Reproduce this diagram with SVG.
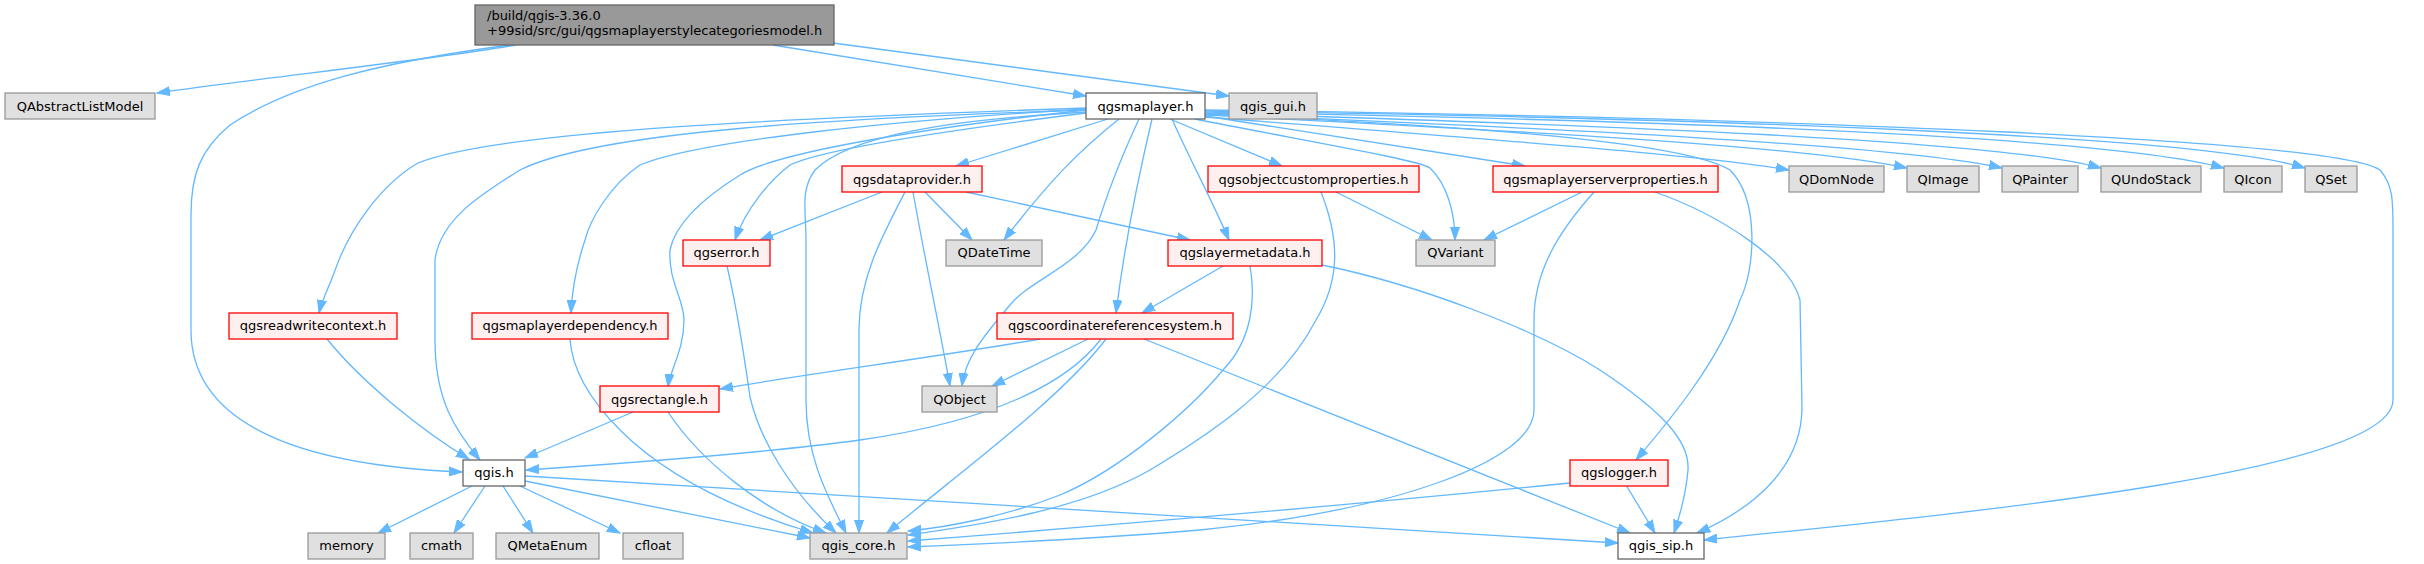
<svg xmlns="http://www.w3.org/2000/svg" width="2424" height="564" viewBox="0 0 2424 564">
<style>
text{font-family:"DejaVu Sans","Liberation Sans",sans-serif;font-size:13px;fill:#000}
.n text{text-anchor:middle}
.g rect{fill:#e0e0e0;stroke:#999999;stroke-width:1.3}
.r rect{fill:#fff0f0;stroke:#ff0000;stroke-width:1.3}
.w rect{fill:#ffffff;stroke:#666666;stroke-width:1.3}
.root rect{fill:#999999;stroke:#666666;stroke-width:1.3}
#edges path{fill:none;stroke:#63b8ff;stroke-width:1.3;marker-end:url(#a)}
</style>
<defs>
<marker id="a" markerWidth="14" markerHeight="10" refX="13" refY="5" orient="auto" markerUnits="userSpaceOnUse"><path d="M0,0.5 L13,5 L0,9.5 z" fill="#63b8ff" stroke="#63b8ff" stroke-width="1"/></marker>
</defs>
<rect width="2424" height="564" fill="#ffffff"/>
<g id="edges">
<path d="M516,45 C430,60 260,78 157,93"/>
<path d="M510,45 C380,62 290,85 230,125 C200,150 191,175 191,215 L191,330 C191,420 290,465 462,472"/>
<path d="M773,45 L1086,96"/>
<path d="M833,43 L1229,96"/>
<path d="M1108,119 L956,166"/>
<path d="M1170,119 L1282,166"/>
<path d="M1205,116 L1525,166"/>
<path d="M1205,117 C1500,140 1700,155 1789,170"/>
<path d="M1205,115 C1500,130 1800,145 1907,168"/>
<path d="M1205,114 C1550,128 1900,145 2002,168"/>
<path d="M1205,113 C1600,125 2000,140 2101,168"/>
<path d="M1205,112 C1650,120 2100,135 2224,168"/>
<path d="M1205,111 C1700,118 2200,135 2305,168"/>
<path d="M1205,110 C1800,118 2340,140 2380,170 C2393,185 2393,200 2393,230 L2393,400 C2393,470 2000,510 1704,540"/>
<path d="M1205,114 C1450,125 1680,140 1730,170 C1760,200 1755,270 1740,300 C1720,360 1670,420 1636,460"/>
<path d="M1195,119 C1300,140 1420,160 1430,168 C1448,185 1455,215 1455,240"/>
<path d="M1172,119 C1190,160 1212,200 1229,240"/>
<path d="M1152,119 C1140,170 1125,240 1116,313"/>
<path d="M1139,119 C1120,160 1105,200 1096,230 C1080,265 1030,280 1010,305 C980,340 965,360 962,386"/>
<path d="M1119,119 C1080,150 1050,180 1004,240"/>
<path d="M1086,112 C950,120 850,135 815,170 C800,190 806,210 806,240 L806,400 C806,460 830,500 846,533"/>
<path d="M1086,110 C850,118 600,130 520,170 C480,195 440,220 435,260 L435,340 C435,400 455,430 480,460"/>
<path d="M1086,108 C800,118 500,130 418,163 C380,185 350,230 337,265 C330,285 322,300 319,313"/>
<path d="M1086,109 C900,120 700,140 640,165 C610,185 590,220 585,240 C575,270 572,290 571,313"/>
<path d="M1086,110 C950,125 780,150 740,175 C700,200 675,225 670,250 C668,280 684,300 684,320 C684,350 670,370 668,387"/>
<path d="M1086,113 C950,130 820,150 790,165 C770,180 745,210 735,240"/>
<path d="M882,192 L760,240"/>
<path d="M905,192 C880,240 859,280 859,330 L859,533"/>
<path d="M913,192 C925,260 940,330 950,386"/>
<path d="M925,192 L972,240"/>
<path d="M966,192 L1190,240"/>
<path d="M1336,192 L1432,240"/>
<path d="M1321,192 C1340,240 1340,280 1316,320 C1280,390 1200,440 1150,470 C1080,510 980,525 908,535"/>
<path d="M1582,192 L1484,240"/>
<path d="M1594,192 C1560,230 1534,270 1534,320 L1534,410 C1534,460 1400,510 1200,530 C1080,540 960,545 908,547"/>
<path d="M1655,192 C1720,215 1790,260 1800,300 L1802,407 C1802,470 1750,510 1697,533"/>
<path d="M1223,266 L1142,313"/>
<path d="M1250,266 C1256,300 1252,340 1223,370 C1190,410 1120,470 1060,495 C1010,515 950,527 908,531"/>
<path d="M1322,265 C1420,285 1537,330 1600,370 C1660,410 1690,440 1688,470 C1686,495 1680,515 1674,533"/>
<path d="M1040,339 C950,355 800,375 720,389"/>
<path d="M1088,339 L992,386"/>
<path d="M1101,339 C1070,380 1000,420 860,440 C750,455 600,465 526,470"/>
<path d="M1106,339 C1060,400 950,480 887,533"/>
<path d="M1144,339 L1630,533"/>
<path d="M727,266 C735,300 742,340 750,397 C760,440 790,490 836,533"/>
<path d="M327,339 C360,380 420,430 469,459"/>
<path d="M570,339 C572,370 590,400 620,430 C660,470 720,505 813,533"/>
<path d="M633,412 L525,458"/>
<path d="M668,412 C700,460 760,510 826,533"/>
<path d="M472,486 L378,533"/>
<path d="M485,486 L454,533"/>
<path d="M503,486 L533,533"/>
<path d="M520,486 L620,533"/>
<path d="M525,481 L810,538"/>
<path d="M525,476 L1618,543"/>
<path d="M1570,483 C1300,510 1050,530 908,541"/>
<path d="M1626,485 L1655,533"/>
</g>
<g id="root" class="root"><rect x="475" y="5" width="359" height="40"/><text x="487" y="20">/build/qgis-3.36.0</text><text x="487" y="35">+99sid/src/gui/qgsmaplayerstylecategoriesmodel.h</text></g>
<g id="n_QAbstractListModel" class="n g"><rect x="5" y="93" width="150" height="26"/><text x="80" y="110.5">QAbstractListModel</text></g>
<g id="n_qgsmaplayer" class="n w"><rect x="1086" y="93" width="119" height="26"/><text x="1145.5" y="110.5">qgsmaplayer.h</text></g>
<g id="n_qgis_gui" class="n g"><rect x="1229" y="93" width="88" height="26"/><text x="1273" y="110.5">qgis_gui.h</text></g>
<g id="n_qgsdataprovider" class="n r"><rect x="842" y="166" width="140" height="26"/><text x="912" y="183.5">qgsdataprovider.h</text></g>
<g id="n_qgsobjectcustomproperties" class="n r"><rect x="1208" y="166" width="211" height="26"/><text x="1313.5" y="183.5">qgsobjectcustomproperties.h</text></g>
<g id="n_qgsmaplayerserverproperties" class="n r"><rect x="1493" y="166" width="225" height="26"/><text x="1605.5" y="183.5">qgsmaplayerserverproperties.h</text></g>
<g id="n_QDomNode" class="n g"><rect x="1789" y="166" width="95" height="26"/><text x="1836.5" y="183.5">QDomNode</text></g>
<g id="n_QImage" class="n g"><rect x="1907" y="166" width="72" height="26"/><text x="1943" y="183.5">QImage</text></g>
<g id="n_QPainter" class="n g"><rect x="2002" y="166" width="76" height="26"/><text x="2040" y="183.5">QPainter</text></g>
<g id="n_QUndoStack" class="n g"><rect x="2101" y="166" width="100" height="26"/><text x="2151" y="183.5">QUndoStack</text></g>
<g id="n_QIcon" class="n g"><rect x="2224" y="166" width="58" height="26"/><text x="2253" y="183.5">QIcon</text></g>
<g id="n_QSet" class="n g"><rect x="2305" y="166" width="52" height="26"/><text x="2331" y="183.5">QSet</text></g>
<g id="n_qgserror" class="n r"><rect x="683" y="240" width="87" height="26"/><text x="726.5" y="257">qgserror.h</text></g>
<g id="n_QDateTime" class="n g"><rect x="946" y="240" width="96" height="26"/><text x="994" y="257">QDateTime</text></g>
<g id="n_qgslayermetadata" class="n r"><rect x="1168" y="240" width="154" height="26"/><text x="1245" y="257">qgslayermetadata.h</text></g>
<g id="n_QVariant" class="n g"><rect x="1416" y="240" width="79" height="26"/><text x="1455.5" y="257">QVariant</text></g>
<g id="n_qgsreadwritecontext" class="n r"><rect x="229" y="313" width="168" height="26"/><text x="313" y="330">qgsreadwritecontext.h</text></g>
<g id="n_qgsmaplayerdependency" class="n r"><rect x="472" y="313" width="196" height="26"/><text x="570" y="330">qgsmaplayerdependency.h</text></g>
<g id="n_qgscoordinatereferencesystem" class="n r"><rect x="997" y="313" width="236" height="26"/><text x="1115" y="330">qgscoordinatereferencesystem.h</text></g>
<g id="n_qgsrectangle" class="n r"><rect x="600" y="386" width="119" height="26"/><text x="659.5" y="403.5">qgsrectangle.h</text></g>
<g id="n_QObject" class="n g"><rect x="922" y="386" width="75" height="26"/><text x="959.5" y="403.5">QObject</text></g>
<g id="n_qgis" class="n w"><rect x="463" y="460" width="62" height="26"/><text x="494" y="477">qgis.h</text></g>
<g id="n_qgslogger" class="n r"><rect x="1570" y="460" width="98" height="26"/><text x="1619" y="477">qgslogger.h</text></g>
<g id="n_memory" class="n g"><rect x="308" y="533" width="77" height="26"/><text x="346.5" y="550">memory</text></g>
<g id="n_cmath" class="n g"><rect x="410" y="533" width="63" height="26"/><text x="441.5" y="550">cmath</text></g>
<g id="n_QMetaEnum" class="n g"><rect x="496" y="533" width="103" height="26"/><text x="547.5" y="550">QMetaEnum</text></g>
<g id="n_cfloat" class="n g"><rect x="623" y="533" width="60" height="26"/><text x="653" y="550">cfloat</text></g>
<g id="n_qgis_core" class="n g"><rect x="810" y="533" width="97" height="26"/><text x="858.5" y="550">qgis_core.h</text></g>
<g id="n_qgis_sip" class="n w"><rect x="1618" y="533" width="86" height="26"/><text x="1661" y="550">qgis_sip.h</text></g>
</svg>
